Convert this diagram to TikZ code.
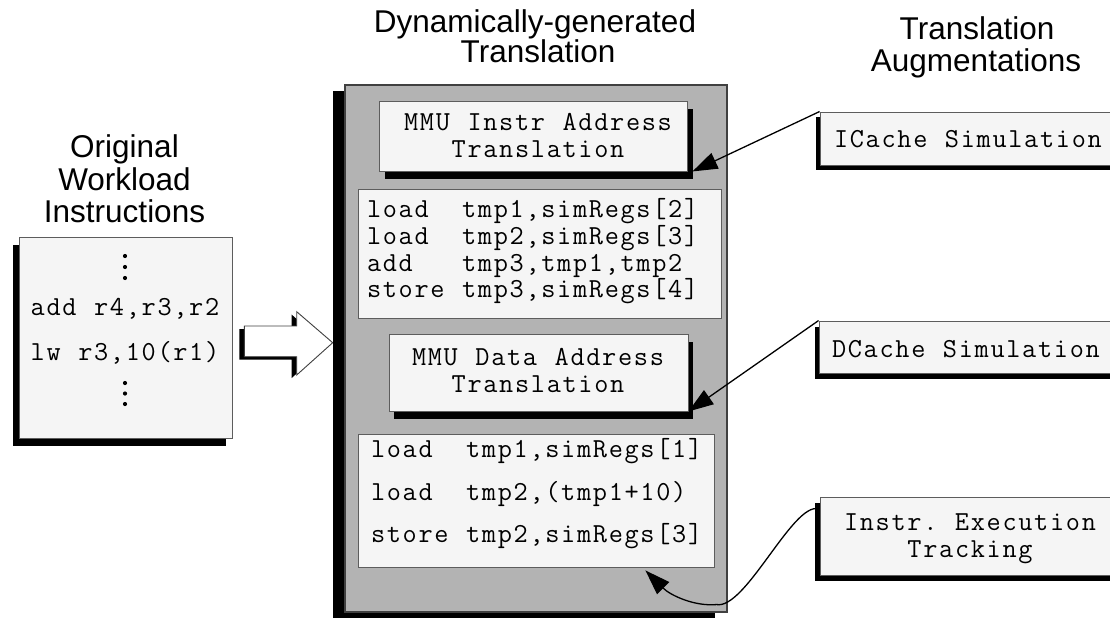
\documentclass[tikz,border=0pt]{standalone}
\usepackage{fontspec}
\setmainfont{Liberation Sans}
\usetikzlibrary{arrows.meta,calc,shadows}
\definecolor{paper}{HTML}{F5F5F5}
\definecolor{panelgray}{HTML}{B3B3B3}
\definecolor{rulegray}{HTML}{404040}

% monospaced text set in fixed-width cells; "_" stands for a blank cell
\newlength{\cellwd}
\setlength{\cellwd}{15.85pt}
\ExplSyntaxOn
\NewDocumentCommand{\cells}{m}
  {
    \str_map_inline:nn {#1}
      {
        \str_if_eq:nnTF {##1} {_}
          { \hbox_to_wd:nn {\cellwd} {\hfil} }
          { \hbox_to_wd:nn {\cellwd} {\hfil ##1 \hfil} }
      }
  }
\ExplSyntaxOff

\begin{document}
\begin{tikzpicture}[x=1pt,y=-1pt,
  paperbox/.style={draw=rulegray!85, line width=0.9pt, fill=paper, inner sep=0pt},
  cast/.style 2 args={general shadow={fill=black, shadow xshift=#1, shadow yshift=#2}},
  title/.style={font=\fontsize{31.5}{32}\selectfont, anchor=base, inner sep=0pt},
  code/.style={font=\ttfamily\fontsize{27.5}{27.5}\selectfont, inner sep=0pt},
  link/.style={line width=1.3pt, -{Triangle[length=25pt,width=17pt]}},
]
\useasboundingbox (0,0) rectangle (1110,618);
\clip (0,0) rectangle (1110,618);

% ---- column headings ----
\node[title] (tOrigA) at (124.5,157) {Original};
\node[title] (tOrigB) at (124.5,190) {Workload};
\node[title] (tOrigC) at (124.5,222) {Instructions};
\node[title] (tDynA) at (535,33) {Dynamically-generated};
\node[title] (tDynB) at (538,63) {Translation};
\node[title] (tAugA) at (977,40) {Translation};
\node[title] (tAugB) at (976,71) {Augmentations};

% ---- original workload instructions ----
\node[paperbox, cast={-6pt}{-8pt}, minimum width=213pt, minimum height=201pt] (orig) at (125.5,337.5) {};
\foreach \yy in {256,267,278,383,393.5,404} \fill (125,\yy) circle (2.1pt);
\node[code, anchor=base] (origA) at (125,315) {\cells{add_r4,r3,r2}};
\node[code, anchor=base] (origB) at (125,360) {\cells{lw_r3,10(r1)}};

% ---- block arrow ----
\fill[black, shift={(-5,3)}] (244.3,326) -- (296.7,326) -- (296.7,311.7) -- (332.7,342.7)
  -- (296.7,375) -- (296.7,356.7) -- (244.3,356.7) -- cycle;
\draw[draw=rulegray, fill=white, line width=0.9pt] (244.3,326) -- (296.7,326) -- (296.7,311.7)
  -- (332.7,342.7) -- (296.7,375) -- (296.7,356.7) -- (244.3,356.7) -- cycle;

% ---- dynamically-generated translation ----
\node[draw=rulegray, line width=1.1pt, fill=panelgray, cast={-12pt}{-6pt},
  minimum width=382pt, minimum height=527pt, inner sep=0pt] (panel) at (536,348.5) {};

\node[paperbox, cast={6pt}{-8pt}, minimum width=308pt, minimum height=70pt] (mmui) at (533,136) {};
\node[code, anchor=base] (mmuiA) at (538,130) {\cells{MMU_Instr_Address}};
\node[code, anchor=base] (mmuiB) at (538,157) {\cells{Translation}};

\node[paperbox, minimum width=363pt, minimum height=129pt] (codeA) at (539.5,253.5) {};
\node[code, anchor=base west] (codeAa) at (366,217) {\cells{load__tmp1,simRegs[2]}};
\node[code, anchor=base west] (codeAb) at (366,244) {\cells{load__tmp2,simRegs[3]}};
\node[code, anchor=base west] (codeAc) at (366,271) {\cells{add___tmp3,tmp1,tmp2}};
\node[code, anchor=base west] (codeAd) at (366,297.5) {\cells{store_tmp3,simRegs[4]}};

\node[paperbox, cast={5pt}{-8pt}, minimum width=299pt, minimum height=77pt] (mmud) at (538.5,372.5) {};
\node[code, anchor=base] (mmudA) at (538,365) {\cells{MMU_Data_Address}};
\node[code, anchor=base] (mmudB) at (538,392) {\cells{Translation}};

\node[paperbox, minimum width=356pt, minimum height=133pt] (codeB) at (536,500.5) {};
\node[code, anchor=base west] (codeBa) at (370,457) {\cells{load__tmp1,simRegs[1]}};
\node[code, anchor=base west] (codeBb) at (370,500) {\cells{load__tmp2,(tmp1+10)}};
\node[code, anchor=base west] (codeBc) at (370,542) {\cells{store_tmp2,simRegs[3]}};

% ---- translation augmentations ----
\node[paperbox, cast={-4pt}{-5pt}, minimum width=305pt, minimum height=53pt] (ic) at (972.5,138.5) {};
\node[code, anchor=base west] (icT) at (833,147) {\cells{ICache_Simulation}};

\node[paperbox, cast={-4pt}{-6pt}, minimum width=306pt, minimum height=52pt] (dc) at (972,347) {};
\node[code, anchor=base west] (dcT) at (831,357) {\cells{DCache_Simulation}};

\node[paperbox, cast={-5pt}{-6pt}, minimum width=305pt, minimum height=78pt] (ie) at (972.5,536) {};
\node[code, anchor=base] (ieA) at (970,530) {\cells{Instr._Execution}};
\node[code, anchor=base] (ieB) at (970,557) {\cells{Tracking}};

% ---- connectors ----
\coordinate (mmuiHit) at ($(mmui.south east)+(5,0)$);
\coordinate (ieStart) at ($(ie.north west)+(-4,12)$);
\coordinate (codeBHit) at ($(codeB.south east)+(-69,3)$);
\draw[link] (ic.north west) -- (mmuiHit);
\draw[link] (dc.north west) -- (mmud.south east);
\draw[link] (ieStart) .. controls +(-26,1) and +(28,5) .. ++(-99,96)
  .. controls +(-22,2) and +(25,25) .. (codeBHit);
\end{tikzpicture}
\end{document}
